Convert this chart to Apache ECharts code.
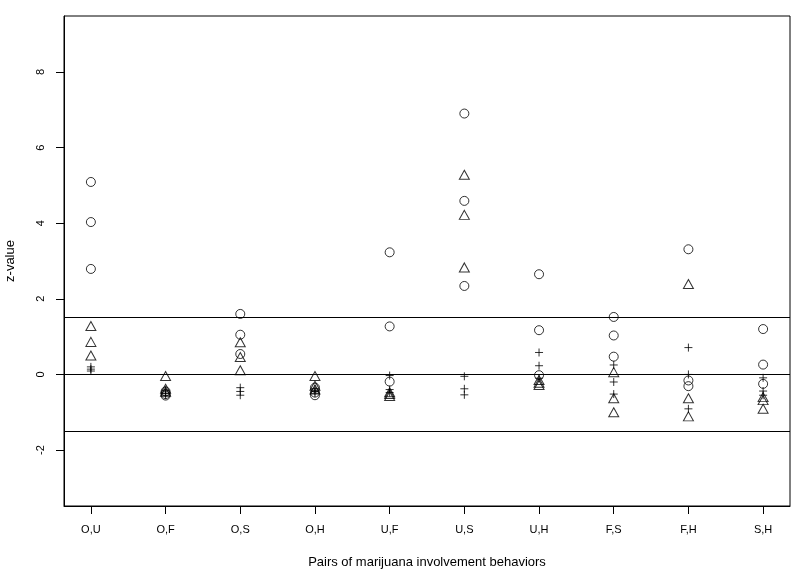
<!DOCTYPE html>
<html>
<head>
<meta charset="utf-8">
<script src="https://cdn.jsdelivr.net/npm/echarts@6/dist/echarts.min.js"></script>
<style>
  html, body { margin: 0; padding: 0; background: #fff; }
  #chart { width: 799px; height: 573px; }
</style>
</head>
<body>
<div id="chart"></div>
<script>
// pairs of behaviours on the x axis
const pairs = ['O,U', 'O,F', 'O,S', 'O,H', 'U,F', 'U,S', 'U,H', 'F,S', 'F,H', 'S,H']
const yTicks = [-2, 0, 2, 4, 6, 8]
const refLines = [1.5, 0, -1.5]

// three z-values per pair for each marker type
const circleZ = [
  [5.09, 4.03, 2.79],
  [-0.45, -0.52, -0.56],
  [1.60, 1.05, 0.54],
  [-0.35, -0.48, -0.55],
  [3.23, 1.27, -0.19],
  [6.90, 4.59, 2.34],
  [2.65, 1.17, -0.02],
  [1.52, 1.03, 0.47],
  [3.31, -0.16, -0.31],
  [1.20, 0.26, -0.25]
]
const triangleZ = [
  [1.28, 0.86, 0.50],
  [-0.04, -0.38, -0.46],
  [0.85, 0.46, 0.11],
  [-0.04, -0.30, -0.40],
  [-0.47, -0.52, -0.57],
  [5.28, 4.22, 2.83],
  [-0.15, -0.22, -0.28],
  [0.06, -0.63, -1.00],
  [2.39, -0.63, -1.11],
  [-0.60, -0.68, -0.91]
]
const plusZ = [
  [0.20, 0.14, 0.09],
  [-0.42, -0.50, -0.55],
  [-0.35, -0.45, -0.55],
  [-0.38, -0.45, -0.50],
  [-0.03, -0.40, -0.48],
  [-0.05, -0.38, -0.54],
  [0.58, 0.23, -0.10],
  [0.25, -0.20, -0.52],
  [0.71, 0.00, -0.91],
  [-0.09, -0.44, -0.55]
]

function toPoints(rows) {
  const out = []
  rows.forEach((vals, i) => {
    vals.forEach(v => out.push([i + 1, v]))
  })
  return out
}

const font = 'Liberation Sans, Arial, Helvetica, sans-serif'
const hollow = { color: 'rgba(0,0,0,0)', borderColor: '#000', borderWidth: 1 }
const xTicks = pairs.map((p, i) => i + 1)

const chart = echarts.init(document.getElementById('chart'))

const options = {
  animation: false,
  backgroundColor: '#fff',
  grid: {
    left: 64,
    right: 9,
    top: 16,
    bottom: 67,
    outerBoundsMode: 'none',
    show: true,
    borderColor: '#000',
    borderWidth: 1
  },
  // y axis title, drawn like R's ylab
  graphic: [{
    type: 'text',
    x: 10,
    y: 261,
    rotation: Math.PI / 2,
    style: {
      text: 'z-value',
      fill: '#000',
      font: '13px ' + font,
      align: 'center',
      verticalAlign: 'middle'
    }
  }],
  xAxis: {
    type: 'value',
    min: 0.64,
    max: 10.36,
    name: 'Pairs of marijuana involvement behaviors',
    nameLocation: 'middle',
    nameGap: 50,
    nameTextStyle: { color: '#000', fontFamily: font, fontSize: 13 },
    axisLine: { show: true, onZero: false, lineStyle: { color: '#000' } },
    axisTick: {
      show: true,
      length: 8,
      customValues: xTicks,
      lineStyle: { color: '#000' }
    },
    axisLabel: {
      customValues: xTicks,
      formatter: v => pairs[Math.round(v) - 1],
      margin: 18,
      color: '#000',
      fontFamily: font,
      fontSize: 11
    },
    splitLine: { show: false }
  },
  yAxis: {
    type: 'value',
    min: -3.48,
    max: 9.48,
    axisLine: { show: true, onZero: false, lineStyle: { color: '#000' } },
    axisTick: {
      show: true,
      length: 8,
      customValues: yTicks,
      lineStyle: { color: '#000', width: 1 }
    },
    axisLabel: {
      customValues: yTicks,
      rotate: 90,
      margin: 18,
      color: '#000',
      fontFamily: font,
      fontSize: 11
    },
    // kept on (but invisible) so the tick layout matches the working test setup
    splitLine: { show: true, lineStyle: { color: 'rgba(0,0,0,0)' } }
  },
  series: [
    {
      type: 'scatter',
      name: 'circle',
      symbol: 'circle',
      symbolSize: 9,
      itemStyle: hollow,
      data: toPoints(circleZ),
      markLine: {
        silent: true,
        symbol: ['none', 'none'],
        label: { show: false },
        lineStyle: { color: '#000', type: 'solid', width: 1 },
        data: refLines.map(v => ({ yAxis: v }))
      }
    },
    {
      type: 'scatter',
      name: 'triangle',
      symbol: 'triangle',
      symbolSize: [10, 9],
      itemStyle: hollow,
      data: toPoints(triangleZ)
    },
    {
      type: 'scatter',
      name: 'plus',
      symbol: 'path://M5,0L5,10M0,5L10,5',
      symbolSize: 8,
      itemStyle: hollow,
      data: toPoints(plusZ)
    }
  ]
}

chart.setOption(options)
</script>
</body>
</html>
